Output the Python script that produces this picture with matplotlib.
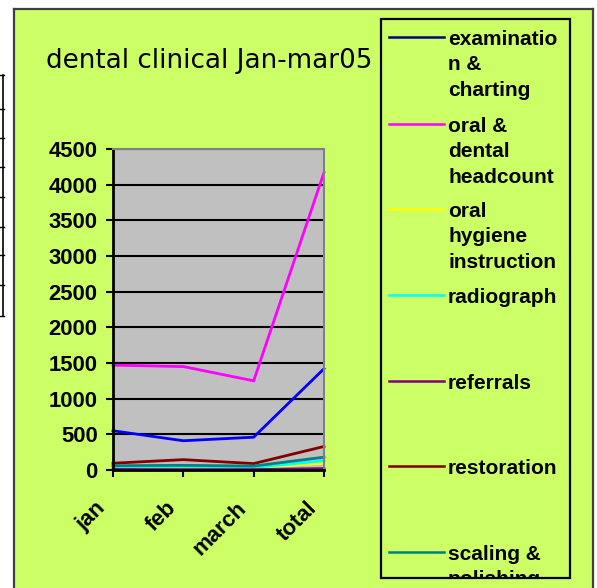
import matplotlib.pyplot as plt
from matplotlib.lines import Line2D
from matplotlib.patches import Rectangle
from matplotlib.transforms import Bbox, TransformedBbox, ScaledTranslation

# data
months = ["jan", "feb", "march", "total"]
examination = [550, 410, 460, 1420]
headcount = [1470, 1450, 1250, 4170]
hygiene = [35, 30, 30, 95]
radiograph = [45, 50, 35, 130]
referrals = [8, 6, 6, 20]
restoration = [95, 145, 90, 330]
scaling = [60, 65, 55, 180]

labels = ["examinatio\nn &\ncharting", "oral &\ndental\nheadcount",
          "oral\nhygiene\ninstruction", "radiograph", "referrals",
          "restoration", "scaling &\npolishing"]
series = [examination, headcount, hygiene, radiograph, referrals,
          restoration, scaling]
line_colors = ["#0000FF", "#FF00FF", "#FFFF00", "#00FFFF", "#800080",
               "#800000", "#008080"]
legend_colors = ["#000080", "#FF00FF", "#FFFF00", "#00FFFF", "#800080",
                 "#800000", "#008080"]

W, H = 597, 588
fig = plt.figure(figsize=(W / 100, H / 100), dpi=100)
fig.patch.set_facecolor("white")


def fx(px):
    return px / W


def fy(py):
    return 1 - py / H


# green chart area
fig.patches.append(Rectangle((fx(14), 0), fx(593) - fx(14), fy(9),
                             transform=fig.transFigure, facecolor="#CCFF66",
                             edgecolor="none", zorder=-5))
for xs, ys in [([14, 14], [9, 588]), ([14, 593], [9, 9]), ([593, 593], [9, 588])]:
    fig.lines.append(Line2D([fx(x) for x in xs], [fy(y) for y in ys],
                            transform=fig.transFigure, color="#404040", lw=1.6,
                            zorder=-4))

# bit of a table peeking in on the left
fig.lines.append(Line2D([fx(3), fx(3)], [fy(75), fy(316)],
                        transform=fig.transFigure, color="black", lw=1.2))
for y in [75, 109, 138, 167, 197, 227, 255, 285, 316]:
    fig.lines.append(Line2D([0, fx(4)], [fy(y), fy(y)],
                            transform=fig.transFigure, color="black", lw=1.0))

fig.text(fx(46), fy(61), "dental clinical Jan-mar05", fontsize=18.8,
         family="DejaVu Sans", va="center", ha="left")

ax = fig.add_axes([fx(113), fy(470), fx(324) - fx(113), fy(149) - fy(470)])
ax.set_zorder(2)
ax.set_facecolor("#C0C0C0")
x = list(range(len(months)))
for vals, c in zip(series, line_colors):
    ax.plot(x, vals, color=c, lw=2.0, clip_on=False, solid_joinstyle="miter")

ax.set_xlim(0, 3)
ax.set_ylim(0, 4500)
ax.set_yticks(range(0, 4501, 500))
ax.set_xticks(x)
ax.set_xticklabels(months, rotation=45, ha="right", va="top",
                   rotation_mode="anchor")
ax.yaxis.grid(True, color="black", lw=1.5)
ax.set_axisbelow(True)
for lab in ax.get_xticklabels() + ax.get_yticklabels():
    lab.set_family("Liberation Sans")
    lab.set_fontweight("bold")
    lab.set_fontsize(15.8)
ax.tick_params(axis="both", direction="out", length=5, width=1.5, color="black")
ax.tick_params(axis="y", pad=6)
ax.tick_params(axis="x", pad=15)
shift = ScaledTranslation(-18 / 100, 0, fig.dpi_scale_trans)
for lab in ax.get_xticklabels():
    lab.set_transform(lab.get_transform() + shift)
for s in ["left", "bottom"]:
    ax.spines[s].set_color("black")
    ax.spines[s].set_linewidth(2)
for s in ["top", "right"]:
    ax.spines[s].set_color("#808080")
    ax.spines[s].set_linewidth(1.5)

# legend box drawn by hand
box = Rectangle((fx(381), fy(578)), fx(570) - fx(381), fy(19) - fy(578),
                transform=fig.transFigure, facecolor="none",
                edgecolor="black", lw=1.6, zorder=3)
fig.patches.append(box)
clip = TransformedBbox(Bbox([[fx(381), fy(578)], [fx(570), fy(19)]]),
                       fig.transFigure)
rows = [37, 124, 209, 295, 381, 466, 552]
for lab, c, y in zip(labels, legend_colors, rows):
    fig.lines.append(Line2D([fx(389), fx(444)], [fy(y), fy(y)],
                            transform=fig.transFigure, color=c, lw=1.8))
    t = fig.text(fx(448), fy(y - 7), lab, family="Liberation Sans",
                 fontweight="bold", fontsize=15, va="top", ha="left",
                 linespacing=1.43)
    t.set_clip_box(clip)
    t.set_clip_on(True)

fig.savefig("out.png", dpi=100, facecolor="white")
